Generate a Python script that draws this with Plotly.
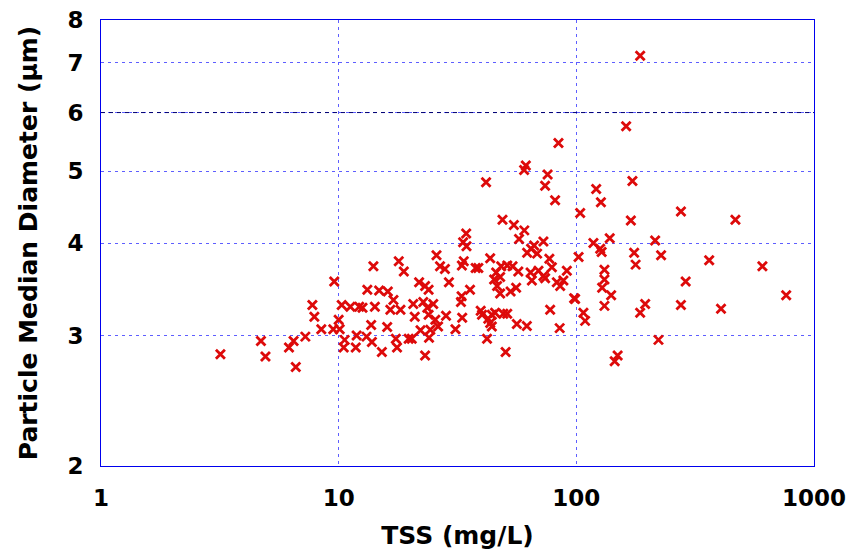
import plotly.graph_objects as go

# TSS (mg/L) and particle median diameter (um)
tss = [
    3.18, 4.71, 4.92, 6.18, 6.46, 6.60, 7.24, 7.75, 7.90, 8.45, 9.49, 9.58,
    10.0, 10.1, 10.3, 10.6, 10.5, 11.2, 11.8, 11.9, 12.2, 12.6, 13.1, 13.2, 13.7, 13.8, 14.0, 14.2, 14.8, 15.2,
    16.1, 16.0, 16.5, 17.0, 17.4, 17.6, 17.9, 18.2, 18.8, 19.7, 20.3, 20.6, 20.9, 21.8, 22.1, 22.7,
    23.1, 23.1, 23.9, 23.6, 23.9, 24.3, 24.0, 25.0, 25.5, 25.8, 26.2, 26.7, 28.0, 28.3, 29.1, 31.0,
    34.4, 33.4, 34.5, 41.7, 48.9, 54.6, 60.4, 57.4, 43.4, 33.6, 33.0, 37.7, 38.7, 48.3, 51.2, 53.9,
    57.0, 46.0, 45.1, 47.8, 46.4, 47.8, 52.9, 55.8, 64.2, 65.0, 69.3, 72.7, 77.0, 78.9, 73.9, 82.8,
    88.2, 91.2, 85.5, 66.4, 64.5, 68.4, 62.1, 72.7, 102.2, 103.8, 97.9, 98.8, 77.6, 85.1, 35.7, 32.9,
    32.7, 33.1, 39.6, 40.1, 42.6, 43.4, 44.1, 44.1, 45.5, 49.3, 51.2, 56.2, 61.9, 42.1, 50.4,
    81.4, 84.1, 61.3, 60.3, 75.7, 73.9,
    185.6, 162.0, 172.2, 121.2, 126.9, 275.5, 467.0, 169.6, 138.2, 118.0, 126.0, 127.8, 214.6, 175.1,
    177.6, 227.3, 362.2, 606.6, 131.3, 131.3, 128.4, 140.1, 288.4, 763.8, 131.3, 194.8, 185.6, 275.5,
    406.2, 107.1, 108.9, 221.6, 149.2, 145.0,
]
diameter = [
    2.83, 2.95, 2.81, 2.89, 2.95, 2.72, 2.99, 3.30, 3.18, 3.06, 3.06, 3.55,
    3.15, 3.06, 3.30, 2.96, 2.89, 3.28, 2.89, 3.00, 3.28, 3.27, 2.99, 3.46, 3.10, 2.94, 3.72, 3.28, 3.45, 2.85,
    3.44, 3.08, 3.25, 3.35, 2.97, 2.89, 3.78, 3.25, 3.66, 2.97, 2.97, 3.31, 3.18, 3.54, 3.05, 3.33,
    2.82, 3.50, 3.46, 3.27, 3.20, 3.055, 2.98, 3.31, 3.15, 3.85, 3.085, 3.72, 3.69, 3.19, 3.54, 3.06,
    4.12, 4.01, 3.96, 4.83, 4.30, 4.23, 4.16, 4.05, 3.815, 3.78, 3.73, 3.70, 3.70, 3.72, 3.73, 3.72,
    3.66, 3.65, 3.57, 3.60, 3.50, 3.42, 3.44, 3.48, 3.65, 3.56, 3.67, 3.61, 3.81, 3.71, 3.585, 3.54,
    3.56, 3.67, 3.50, 3.97, 3.93, 3.87, 3.88, 4.02, 3.83, 4.39, 3.37, 3.36, 3.25, 3.07, 3.46, 3.39,
    3.33, 3.17, 3.24, 3.20, 3.16, 3.12, 3.085, 3.20, 3.22, 3.21, 3.21, 3.11, 3.09, 2.97, 2.85,
    4.57, 5.46, 5.09, 5.02, 4.95, 4.78,
    7.16, 5.75, 4.85, 4.73, 4.54, 4.41, 4.30, 4.29, 4.06, 4.00, 3.93, 3.89, 4.03, 3.88,
    3.74, 3.85, 3.79, 3.72, 3.68, 3.57, 3.48, 3.40, 3.55, 3.40, 3.29, 3.31, 3.22, 3.30,
    3.26, 3.22, 3.14, 2.96, 2.82, 2.77,
]

x_ticks = [1, 10, 100, 1000]
x_tick_labels = ["1", "10", "100", "1000"]
y_ticks = [2, 3, 4, 5, 6, 7, 8]
y_tick_labels = ["2", "3", "4", "5", "6", "7", "8"]
dashed_level = 6

font_family = "DejaVu Sans, Arial, sans-serif"
grid_color = "rgba(40,40,255,0.75)"

fig = go.Figure()
fig.add_trace(go.Scatter(
    x=tss, y=diameter, mode="markers",
    marker=dict(symbol="x-thin-open", size=9, color="#dd0a0a",
                line=dict(color="#dd0a0a", width=2.8)),
    showlegend=False, cliponaxis=False,
))

fig.add_shape(type="line", xref="paper", x0=0, x1=1, yref="y",
              y0=dashed_level, y1=dashed_level,
              line=dict(color="#000070", width=1, dash="4px,4px"), layer="above")

fig.update_layout(
    width=852, height=555,
    margin=dict(l=101, r=38, t=20, b=89),
    paper_bgcolor="white", plot_bgcolor="white",
    font=dict(family=font_family, color="black"),
    xaxis=dict(
        type="log", range=[0, 3], automargin=False,
        tickvals=x_ticks, ticktext=x_tick_labels,
        tickfont=dict(size=23, family=font_family, weight="bold"),
        ticks="outside", ticklen=11, tickcolor="rgba(0,0,0,0)",
        showgrid=True, gridcolor=grid_color, griddash="3px,4px", gridwidth=1,
        showline=True, linecolor="#0000ee", linewidth=1, mirror=True,
        zeroline=False,
        title=dict(text="TSS (mg/L)", font=dict(size=25, family=font_family, weight="bold"), standoff=16),
    ),
    yaxis=dict(
        type="log", range=[0.30103, 0.90309], automargin=False,
        tickvals=y_ticks, ticktext=y_tick_labels,
        tickfont=dict(size=23, family=font_family, weight="bold"),
        ticks="outside", ticklen=12, tickcolor="rgba(0,0,0,0)",
        showgrid=True, gridcolor=grid_color, griddash="3px,4px", gridwidth=1,
        showline=True, linecolor="#0000ee", linewidth=1, mirror=True,
        zeroline=False,
        title=dict(text="Particle Median Diameter (μm)", font=dict(size=25, family=font_family, weight="bold"), standoff=22),
    ),
)

fig.write_html("out.html")
